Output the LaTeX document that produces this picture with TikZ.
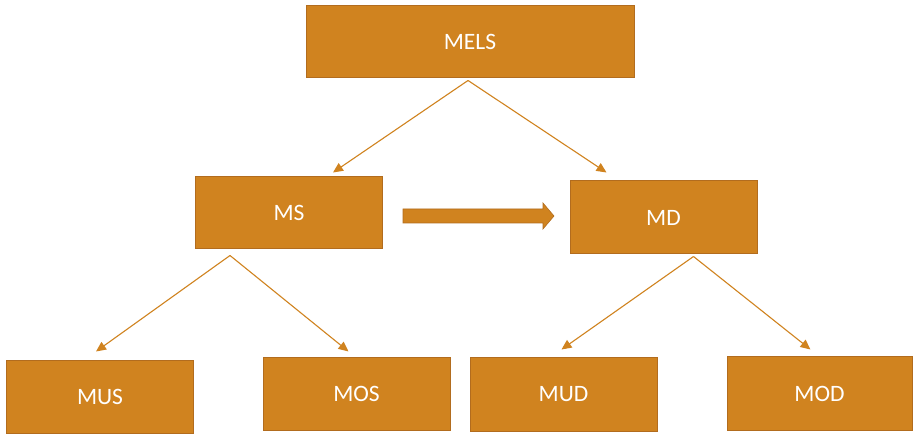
\documentclass[tikz,border=0pt]{standalone}
\usepackage{fontspec}
\setmainfont{Carlito}
\usetikzlibrary{arrows.meta}

\definecolor{boxfill}{RGB}{208,131,31}
\definecolor{boxline}{RGB}{178,108,30}

\tikzset{
  box/.style={draw=boxline, line width=1pt, fill=boxfill, text=white,
    minimum width=187pt, minimum height=72pt, inner sep=0pt,
    font=\fontsize{23.5}{27}\selectfont},
  link/.style={draw=boxfill, line width=1.1pt,
    -{Triangle[length=10pt,width=9pt]}}
}

\begin{document}
\begin{tikzpicture}[x=1pt,y=-1pt]
    \useasboundingbox[fill=white] (0,0) rectangle (913,435);
    % top level
    \node[box, minimum width=328pt] (mels) at (470,42) {MELS};
    % middle level
    \node[box] (ms) at (289,213) {MS};
    \node[box, minimum height=73pt] (md) at (663.5,217.5) {MD};
    % bottom level
    \node[box] (mus) at (100,397) {MUS};
    \node[box] (mos) at (356.5,394) {MOS};
    \node[box, minimum height=73pt] (mud) at (563.5,394.5) {MUD};
    \node[box, minimum width=185pt, minimum height=73pt] (mod) at (819.5,393.5) {MOD};

    \draw[link] ([xshift=-2pt,yshift=-2pt]mels.south) -- ([xshift=44pt,yshift=4pt]ms.north);
    \draw[link] ([xshift=-2pt,yshift=-2pt]mels.south) -- ([xshift=-57pt,yshift=8pt]md.north);
    \draw[link] ([xshift=-59pt,yshift=-6pt]ms.south) -- ([xshift=-4pt,yshift=9pt]mus.north);
    \draw[link] ([xshift=-59pt,yshift=-6pt]ms.south) -- ([xshift=-8pt,yshift=6pt]mos.north);
    \draw[link] ([xshift=30pt,yshift=-2pt]md.south) -- ([xshift=-2pt,yshift=8pt]mud.north);
    \draw[link] ([xshift=30pt,yshift=-2pt]md.south) -- ([xshift=-9pt,yshift=7pt]mod.north);

    % block arrow between MS and MD
    \filldraw[fill=boxfill, draw=boxline, line width=0.6pt]
      (403,209) -- (543,209) -- (543,203) -- (554,216) -- (543,229)
      -- (543,223) -- (403,223) -- cycle;
\end{tikzpicture}
\end{document}
